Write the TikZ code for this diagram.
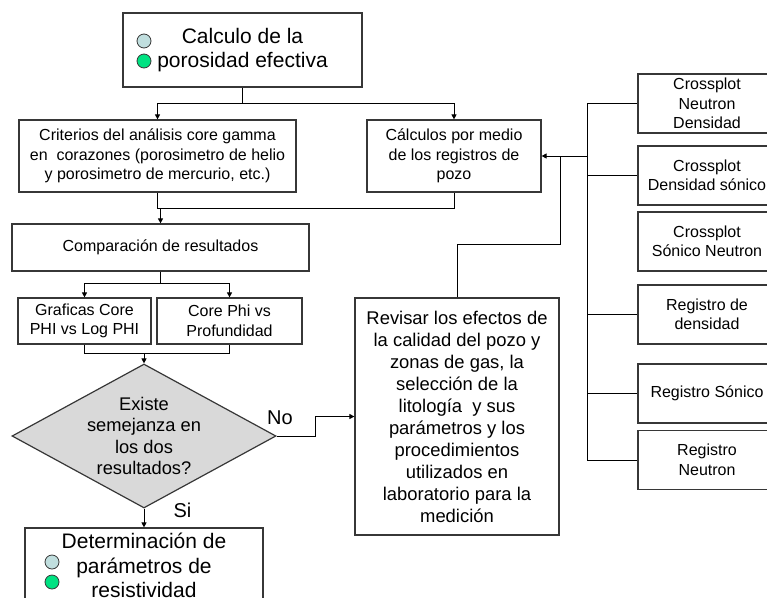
\documentclass[tikz,border=0pt]{standalone}
\usepackage{fontspec}
\setmainfont{Liberation Sans}
\usetikzlibrary{shapes.geometric, arrows.meta, positioning, calc}
\definecolor{dotblue}{RGB}{192, 222, 222}
\definecolor{dotgreen}{RGB}{0, 226, 130}
\definecolor{diamgray}{RGB}{217, 217, 217}
\definecolor{linegray}{RGB}{55, 55, 55}
\tikzset{
  pbox/.style={draw=linegray, line width=1.2pt, align=center, inner sep=2pt},
  midbox/.style={pbox, font=\fontsize{16}{19.5}\selectfont},
  sidebox/.style={midbox, minimum width=138, minimum height=59},
  bigbox/.style={pbox, font=\fontsize{21}{24.5}\selectfont},
  decnode/.style={diamond, draw=linegray, line width=1.2pt, fill=diamgray, aspect=1.83, inner sep=0pt, align=center, font=\fontsize{18.3}{21.5}\selectfont},
  dot/.style={circle, draw=linegray, line width=0.8pt, minimum size=14, inner sep=0pt},
  lbl/.style={font=\fontsize{20}{22}\selectfont},
  conn/.style={draw=black, line width=0.9pt},
  arr/.style={conn, -{Triangle[length=5pt,width=5pt]}},
}
\begin{document}
\begin{tikzpicture}[x=1pt, y=-1pt]
  \clip (0,0) rectangle (767,597);
  % left column
  \node[bigbox, minimum width=239, minimum height=74] (por) at (242.5,50) {Calculo de la\\porosidad efectiva};
  \node[dot, fill=dotblue] (p1) at (144,41) {}; \node[dot, fill=dotgreen] (p2) at (144,61) {};
  \node[midbox, minimum width=277, minimum height=72] (crit) at (157.5,156) {Criterios del análisis core gamma\\en \ corazones (porosimetro de helio\\y porosimetro de mercurio, etc.)};
  \node[midbox, minimum width=174, minimum height=72] (calc) at (454,156) {Cálculos por medio\\de los registros de\\pozo};
  \node[midbox, minimum width=297, minimum height=47] (comp) at (160.5,247.5) {Comparación de resultados};
  \node[midbox, minimum width=133, minimum height=46] (graf) at (84.5,321) {Graficas Core\\PHI vs Log PHI};
  \node[midbox, minimum width=145, minimum height=46] (phi) at (229.5,321) {Core Phi vs\\Profundidad};
  \node[decnode, minimum width=264, minimum height=144] (dec) at (144,436) {Existe\\semejanza en\\los dos\\resultados?};
  \node[bigbox, minimum width=238, minimum height=75] (det) at (144,565.5) {Determinación de\\parámetros de\\resistividad};
  \node[dot, fill=dotblue] (d1) at (52,562) {}; \node[dot, fill=dotgreen] (d2) at (52,582) {};
  \node[pbox, font=\fontsize{18.4}{22}\selectfont, minimum width=204, minimum height=237] (rev) at (457,416.5) {Revisar los efectos de\\la calidad del pozo y\\zonas de gas, la\\selección de la\\litología \ y sus\\parámetros y los\\procedimientos\\utilizados en\\laboratorio para la\\medición};
  \node[lbl] (no) at (280,418) {No};
  \node[lbl] (si) at (182.5,510) {Si};
  % right column
  \node[sidebox] (cnd) at (707,103.5) {Crossplot\\Neutron\\Densidad};
  \node[sidebox] (cds) at (707,175.5) {Crossplot\\Densidad sónico};
  \node[sidebox] (csn) at (707,241.5) {Crossplot\\Sónico Neutron};
  \node[sidebox] (rden) at (707,314.5) {Registro de\\densidad};
  \node[sidebox] (rson) at (707,393.5) {Registro Sónico};
  \node[sidebox] (rneu) at (707,460) {Registro\\Neutron};
  \coordinate (jbus) at (588,156);
  \coordinate (jrev) at (560,156);
  % connectors
  \draw[arr] (por.south) -- ++(0,16) -| (crit.north); \draw[arr] (por.south) -- ++(0,16) -| (calc.north);
  \draw[conn] (crit.south) -- ++(0,16) coordinate (j1) -| (calc.south); \draw[arr] (comp.north |- j1) -- (comp.north);
  \draw[arr] (comp.south) -- ++(0,12) -| (graf.north); \draw[arr] (comp.south) -- ++(0,12) -| (phi.north);
  \draw[conn] (graf.south) -- ++(0,9) coordinate (j2) -| (phi.south); \draw[arr] (dec.north |- j2) -- (dec.north);
  \draw[arr] (dec.east) -- ++(39,0) |- (rev.west);
  \draw[arr] (dec.south) -- (det.north);
  \draw[conn] (rev.north) -- ++(0,-53) -| (jrev);
  \draw[arr] (jbus) -- (calc.east);
  \draw[conn] (cnd.west) -- ++(-50,0) |- (rneu.west);
  \draw[conn] (cds.west) -- ++(-50,0); \draw[conn] (rden.west) -- ++(-50,0); \draw[conn] (rson.west) -- ++(-50,0);
\end{tikzpicture}
\end{document}
